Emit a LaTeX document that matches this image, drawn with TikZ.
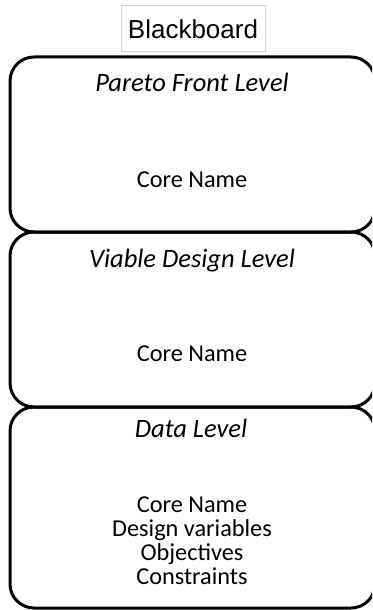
\documentclass[tikz,border=0pt]{standalone}
\usepackage{fontspec}
\setmainfont{Carlito}
\newfontfamily\bbfont{Liberation Sans}
\begin{document}
\begin{tikzpicture}[x=1pt,y=-1pt,
  level/.style={draw=black, line width=3pt, rounded corners=24pt, inner sep=0pt},
  lbl/.style={anchor=base, inner sep=0pt, font=\fontsize{24.3}{28}\selectfont},
  ttl/.style={anchor=base, inner sep=0pt, font=\fontsize{26.5}{30}\selectfont\itshape},
  bbox/.style={draw=black!18, line width=1pt, inner sep=0pt, minimum width=144pt, minimum height=46pt}]
\useasboundingbox (0,0) rectangle (372,610);
\clip (0,0) rectangle (372,610);
% title
\node[bbox] (bb) at (193,29) {};
\node[anchor=base, inner sep=0pt, font=\bbfont\fontsize{26}{30}\selectfont] (bbt) at (193,38) {Blackboard};
% levels
\node[level, minimum width=365pt, minimum height=175pt] (pf) at (192.5,144.5) {};
\node[level, minimum width=365pt, minimum height=175pt] (vd) at (192.5,319.5) {};
\node[level, minimum width=365pt, minimum height=201pt] (dl) at (192.5,507.5) {};
% Pareto front level
\node[ttl] (pft) at (192,92) {Pareto Front Level};
\node[lbl] (pfc) at (192,187) {Core Name};
% Viable design level
\node[ttl] (vdt) at (192,267) {Viable Design Level};
\node[lbl] (vdc) at (192,361) {Core Name};
% Data level
\node[ttl] (dlt) at (191,437) {Data Level};
\node[lbl] (dl1) at (192,512) {Core Name};
\node[lbl] (dl2) at (192,536) {Design variables};
\node[lbl] (dl3) at (192,560) {Objectives};
\node[lbl] (dl4) at (192,584) {Constraints};
\end{tikzpicture}
\end{document}
